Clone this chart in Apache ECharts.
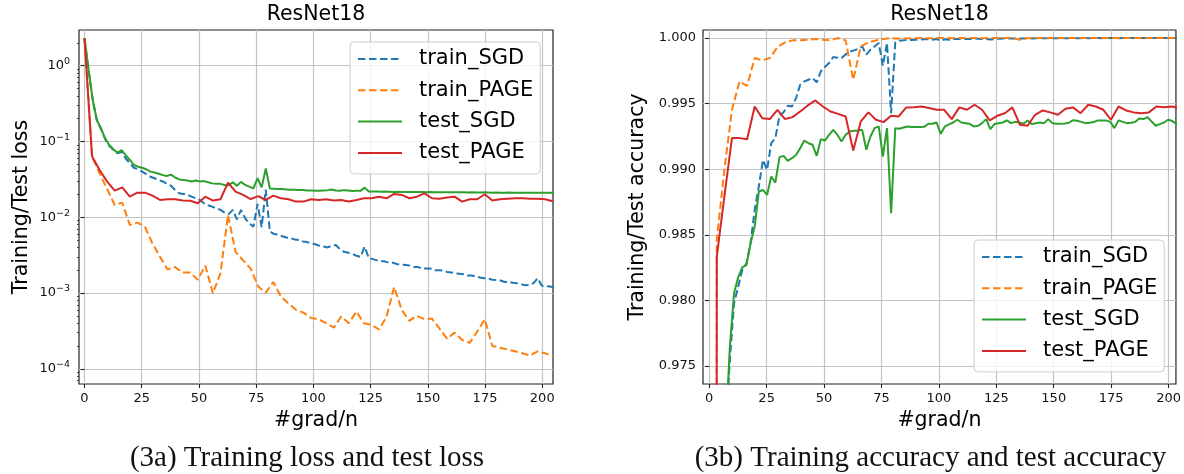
<!DOCTYPE html>
<html>
<head>
<meta charset="utf-8">
<script src="https://cdn.jsdelivr.net/npm/echarts@6/dist/echarts.min.js"></script>
<style>
html,body{margin:0;padding:0;background:#fff;}
#c{width:1184px;height:474px;}
</style>
</head>
<body>
<div id="c"></div>
<script>
// ---- x positions (#grad/n) ----
const xSGD = [0,1.8,3.6,5.4,7.2,9,10.8,12.6,14.4,16.2,18,19.8,21.6,23.4,25.2,27,28.8,30.6,32.4,34.2,36,37.8,39.6,41.4,43.2,45,46.8,48.6,50.4,52.2,54,55.8,57.6,59.4,61.2,63,64.8,66.6,68.4,70.2,72,73.8,75.6,77.4,79.2,81,82.8,84.6,86.4,88.2,90,91.8,93.6,95.4,97.2,99,100.8,102.6,104.4,106.2,108,109.8,111.6,113.4,115.2,117,118.8,120.6,122.4,124.2,126,127.8,129.6,131.4,133.2,135,136.8,138.6,140.4,142.2,144,145.8,147.6,149.4,151.2,153,154.8,156.6,158.4,160.2,162,163.8,165.6,167.4,169.2,171,172.8,174.6,176.4,178.2,180,181.8,183.6,185.4,187.2,189,190.8,192.6,194.4,196.2,198,199.8,201.6,203.4,205.2];
const xPAGE = [0,3.3,6.6,9.9,13.2,16.5,19.8,23.1,26.4,29.7,33,36.3,39.6,42.9,46.2,49.5,52.8,56.1,59.4,62.7,66,69.3,72.6,75.9,79.2,82.5,85.8,89.1,92.4,95.7,99,102.3,105.6,108.9,112.2,115.5,118.8,122.1,125.4,128.7,132,135.3,138.6,141.9,145.2,148.5,151.8,155.1,158.4,161.7,165,168.3,171.6,174.9,178.2,181.5,184.8,188.1,191.4,194.7,198,201.3,204.6];

// ---- (3a) loss ----
const trainLossSGD = [2.3,0.877,0.353,0.19,0.147,0.108,0.088,0.078,0.0697,0.073,0.06,0.0514,0.045,0.043,0.04,0.037,0.0343,0.0327,0.031,0.0297,0.0276,0.026,0.0229,0.0207,0.0203,0.0197,0.0187,0.0178,0.0169,0.0153,0.0144,0.0138,0.0131,0.0125,0.0115,0.011,0.0125,0.0094,0.0125,0.0097,0.0083,0.0075,0.015,0.0074,0.0232,0.0065,0.006,0.0059,0.0056,0.0054,0.0053,0.0051,0.005,0.0048,0.0047,0.0045,0.0044,0.0042,0.0041,0.004,0.0042,0.0043,0.0038,0.0035,0.0034,0.0033,0.0031,0.003,0.0041,0.0029,0.0028,0.0027,0.00265,0.0026,0.0025,0.0025,0.0024,0.00237,0.00235,0.0023,0.0022,0.0022,0.0021,0.0021,0.0021,0.002,0.002,0.00198,0.0019,0.00187,0.00182,0.0018,0.00177,0.0017,0.0017,0.00165,0.0016,0.00157,0.00155,0.0015,0.00149,0.00146,0.0014,0.0014,0.00137,0.00135,0.0013,0.00127,0.00128,0.00135,0.00157,0.00125,0.00123,0.00122,0.00118];
const testLossSGD = [2.3,0.877,0.353,0.192,0.149,0.11,0.09,0.079,0.071,0.077,0.066,0.057,0.049,0.0465,0.045,0.043,0.04,0.039,0.0375,0.036,0.035,0.0365,0.0335,0.0316,0.031,0.0305,0.0297,0.0305,0.0297,0.03,0.029,0.028,0.0276,0.0276,0.0267,0.0265,0.029,0.026,0.0293,0.0267,0.0254,0.024,0.0327,0.0248,0.044,0.024,0.0238,0.0236,0.0236,0.0233,0.023,0.023,0.0229,0.0229,0.0226,0.0226,0.0224,0.0224,0.0226,0.0228,0.0232,0.0226,0.0224,0.0228,0.0225,0.0222,0.0224,0.0223,0.0246,0.0219,0.0218,0.0218,0.0217,0.0218,0.0217,0.0216,0.0217,0.0216,0.0216,0.0215,0.0216,0.0215,0.0215,0.0214,0.0215,0.0214,0.0214,0.0213,0.0214,0.0213,0.0213,0.0214,0.0213,0.0212,0.0213,0.0212,0.0212,0.0213,0.0212,0.0211,0.0212,0.0211,0.0211,0.0212,0.0211,0.0211,0.021,0.0211,0.0211,0.021,0.021,0.0211,0.021,0.021,0.0209];
const trainLossPAGE = [2.3,0.063,0.038,0.0235,0.0145,0.0156,0.0079,0.0085,0.0075,0.0045,0.003,0.00205,0.0022,0.00186,0.00186,0.0015,0.0023,0.00099,0.00182,0.0107,0.0035,0.0027,0.0021,0.00122,0.00101,0.0014,0.0009,0.00073,0.0006,0.00055,0.00047,0.00045,0.0004,0.00035,0.00049,0.0004,0.00057,0.0004,0.00038,0.00033,0.00049,0.0012,0.0006,0.00043,0.0005,0.00045,0.00046,0.00034,0.00025,0.0003,0.00024,0.00022,0.00031,0.00045,0.0002,0.00019,0.00018,0.00017,0.00016,0.00015,0.00017,0.00016,0.000147];
const testLossPAGE = [2.3,0.064,0.042,0.0295,0.0225,0.0248,0.0187,0.0211,0.0211,0.0193,0.0169,0.0173,0.0173,0.0166,0.0165,0.0153,0.0187,0.0166,0.0173,0.0286,0.0218,0.0197,0.0174,0.019,0.0169,0.0193,0.0178,0.0173,0.0161,0.0161,0.0173,0.0169,0.0173,0.0166,0.0169,0.0161,0.0169,0.0178,0.0178,0.0187,0.0178,0.0203,0.0197,0.0178,0.0187,0.0207,0.0178,0.0175,0.0182,0.0187,0.0161,0.0173,0.0173,0.0201,0.0166,0.0173,0.0176,0.0178,0.0178,0.0176,0.0175,0.0173,0.0163];

// ---- (3b) accuracy ----
const trainAccSGD = [0.1,0.95,0.962,0.967,0.97,0.9755,0.97977,0.98104,0.98232,0.98282,0.98435,0.9869,0.98868,0.99071,0.98995,0.99198,0.99237,0.99407,0.99435,0.99483,0.99478,0.99542,0.99644,0.99669,0.99682,0.99695,0.99662,0.99746,0.99779,0.99809,0.99855,0.9985,0.99847,0.99875,0.99896,0.99906,0.99916,0.99936,0.99873,0.99911,0.99936,0.99962,0.99789,0.99962,0.99427,0.99967,0.9998,0.99982,0.99985,0.99985,0.99987,0.99988,0.9999,0.9999,0.99987,0.99992,0.9998,0.9999,0.99987,0.99993,0.99993,0.99992,0.99993,0.99992,0.99993,0.99994,0.99993,0.99992,0.99988,0.99992,0.99995,0.99996,0.99996,0.99997,0.99997,0.99996,0.99997,0.99998,0.99997,0.99998,0.99998,0.99998,0.99999,0.99998,0.99999,0.99999,0.99998,0.99999,1,0.99999,0.99999,1,0.99999,1,1,0.99999,1,1,1,0.99999,1,1,1,1,0.99999,1,1,1,1,1,1,1,1,1,1];
const testAccSGD = [0.1,0.95,0.962,0.967,0.97,0.9765,0.98053,0.98176,0.98252,0.9827,0.98435,0.98562,0.9883,0.98842,0.98804,0.98944,0.98898,0.99092,0.99102,0.99064,0.99084,0.99109,0.9916,0.99219,0.99198,0.99186,0.99102,0.99229,0.99219,0.99262,0.993,0.99262,0.99211,0.99262,0.99288,0.99293,0.99295,0.993,0.99148,0.99249,0.99313,0.99326,0.99097,0.99313,0.98664,0.99313,0.99308,0.99318,0.99326,0.99321,0.99321,0.99321,0.99323,0.99346,0.99346,0.99356,0.9927,0.99326,0.99341,0.99356,0.99377,0.99356,0.99351,0.99346,0.99326,0.99331,0.99351,0.99382,0.99305,0.99344,0.99351,0.99356,0.99372,0.99351,0.99361,0.99356,0.99346,0.99372,0.99344,0.99351,0.99356,0.99351,0.99382,0.99351,0.99346,0.99346,0.99349,0.99354,0.99374,0.99369,0.99361,0.99351,0.99354,0.99359,0.99372,0.99372,0.99372,0.99361,0.99313,0.99372,0.99361,0.99351,0.99354,0.99359,0.99387,0.99382,0.99397,0.99364,0.99331,0.99344,0.99356,0.99377,0.99367,0.99346,0.99338];
const trainAccPAGE = [0.1,0.98461,0.98995,0.99453,0.99669,0.99636,0.99847,0.9983,0.99847,0.99931,0.99967,0.99982,0.99982,0.99987,0.99992,0.99987,0.99982,1,0.99982,0.99682,0.99936,0.99967,0.99982,0.99992,1,0.99995,0.99997,0.99998,1,0.99998,1,1,0.99999,1,1,1,0.99999,1,1,1,1,0.99987,0.99999,1,1,1,1,1,1,1,1,1,1,1,1,1,1,1,1,1,1,1,1];
const testAccPAGE = [0.1,0.98333,0.98791,0.99237,0.99237,0.99229,0.99478,0.99389,0.99382,0.99453,0.99382,0.99397,0.9944,0.99486,0.99524,0.99478,0.9944,0.99422,0.99402,0.99142,0.99364,0.99433,0.99377,0.99359,0.99407,0.99402,0.99471,0.99473,0.99478,0.99466,0.99453,0.99453,0.99382,0.99471,0.99453,0.99491,0.99453,0.99372,0.99407,0.99427,0.99471,0.99338,0.99331,0.99415,0.99448,0.99433,0.99415,0.99461,0.99471,0.99427,0.99491,0.99478,0.99453,0.99377,0.99478,0.99448,0.99433,0.99427,0.99433,0.99478,0.99473,0.99478,0.99466];

// ---- tick labels ----
const xTicks = [0,25,50,75,100,125,150,175,200];
const lossTicks = [1e-4,1e-3,1e-2,1e-1,1];
const lossMinorTicks = [7e-5,8e-5,9e-5,2e-4,3e-4,4e-4,5e-4,6e-4,7e-4,8e-4,9e-4,2e-3,3e-3,4e-3,5e-3,6e-3,7e-3,8e-3,9e-3,2e-2,3e-2,4e-2,5e-2,6e-2,7e-2,8e-2,9e-2,0.2,0.3,0.4,0.5,0.6,0.7,0.8,0.9,2];
const accTicks = [0.975,0.98,0.985,0.99,0.995,1.0];
const seriesNames = ['train_SGD','train_PAGE','test_SGD','test_PAGE'];
const colors = ['#1f77b4','#ff7f0e','#2ca02c','#d62728'];

const FONT = 'DejaVu Sans';
const pair = (xs, ys) => xs.map((x, i) => [x, ys[i]]);

function sup(v) {
  const e = Math.round(Math.log10(v));
  if (Math.abs(Math.log10(v) - e) > 1e-6) return '';
  return '{b|10}{s|' + (e < 0 ? '\u2212' + (-e) : String(e)) + '}';
}

const tickStyle = {show: true, inside: false, length: 4, lineStyle: {color: '#222', width: 1.1}};
const splitStyle = {show: true, lineStyle: {color: '#c3c3c3', width: 1.2}};
const labelBase = {fontFamily: FONT, fontSize: 13, color: '#111'};

function mkSeries(gi, data) {
  return data.map((d, i) => ({
    name: seriesNames[i], type: 'line', xAxisIndex: gi, yAxisIndex: gi === 0 ? 0 : 2,
    data: d, showSymbol: false, symbol: 'none', clip: true, animation: false,
    lineStyle: {color: colors[i], width: 2, type: i < 2 ? [7.5, 3.5] : 'solid'},
    itemStyle: {color: colors[i]}, z: 2 + i
  }));
}

function mkLegend(left, top) {
  return {
    left: left, top: top, orient: 'vertical', data: seriesNames,
    itemWidth: 44, itemHeight: 14, itemGap: 7.3,
    padding: [5, 7, 9, 7],
    backgroundColor: 'rgba(255,255,255,0.8)', borderColor: '#cccccc', borderWidth: 1, borderRadius: 4,
    textStyle: {fontFamily: FONT, fontSize: 21, color: '#000', lineHeight: 24, padding: [0, 0, 0, 12]},
    lineStyle: {width: 2}, itemStyle: {opacity: 0, color: 'transparent', borderWidth: 0},
    selectedMode: false
  };
}

const chart = echarts.init(document.getElementById('c'), null, {renderer: 'canvas'});
chart.setOption({
  animation: false,
  backgroundColor: '#fff',
  grid: [
    {left: 79, top: 30, width: 474, height: 354, show: true, borderColor: '#222', borderWidth: 1.2, backgroundColor: 'transparent'},
    {left: 703, top: 30, width: 473, height: 354, show: true, borderColor: '#222', borderWidth: 1.2, backgroundColor: 'transparent'}
  ],
  xAxis: [
    {gridIndex: 0, type: 'value', min: -2.4, max: 204.7,
     name: '#grad/n', nameLocation: 'middle', nameGap: 26,
     nameTextStyle: {fontFamily: FONT, fontSize: 20.5, color: '#000'},
     axisLine: {show: false}, axisTick: Object.assign({customValues: xTicks}, tickStyle),
     axisLabel: Object.assign({customValues: xTicks, margin: 8}, labelBase), splitLine: splitStyle},
    {gridIndex: 1, type: 'value', min: -2.7, max: 203.2,
     name: '#grad/n', nameLocation: 'middle', nameGap: 26,
     nameTextStyle: {fontFamily: FONT, fontSize: 20.5, color: '#000'},
     axisLine: {show: false}, axisTick: Object.assign({customValues: xTicks}, tickStyle),
     axisLabel: Object.assign({customValues: xTicks, margin: 8}, labelBase), splitLine: splitStyle}
  ],
  yAxis: [
    {gridIndex: 0, type: 'log', logBase: 10, min: 6.3e-5, max: 2.96,
     name: 'Training/Test loss', nameLocation: 'middle', nameGap: 47, nameRotate: 90,
     nameTextStyle: {fontFamily: FONT, fontSize: 20.5, color: '#000'},
     axisLine: {show: false}, axisTick: Object.assign({customValues: lossTicks}, tickStyle),
     axisLabel: Object.assign({customValues: lossTicks, margin: 9, formatter: sup,
       rich: {b: {fontFamily: FONT, fontSize: 13, color: '#111'}, s: {fontFamily: FONT, fontSize: 9.5, color: '#111', padding: [0, 0, 8, 0]}}}, labelBase),
     splitLine: splitStyle},
    {gridIndex: 0, type: 'log', logBase: 10, min: 6.3e-5, max: 2.96, position: 'left',
     axisLine: {show: false}, axisLabel: {show: false}, splitLine: {show: false},
     axisTick: {show: true, inside: false, length: 2, customValues: lossMinorTicks, lineStyle: {color: '#222', width: 0.8}}},
    {gridIndex: 1, type: 'value', min: 0.97363, max: 1.00061,
     name: 'Training/Test accuracy', nameLocation: 'middle', nameGap: 55, nameRotate: 90,
     nameTextStyle: {fontFamily: FONT, fontSize: 20.5, color: '#000'},
     axisLine: {show: false}, axisTick: Object.assign({customValues: accTicks}, tickStyle),
     axisLabel: Object.assign({customValues: accTicks, margin: 7, formatter: v => v.toFixed(3)}, labelBase),
     splitLine: splitStyle}
  ],
  legend: [mkLegend(350, 42), mkLegend(974, 240)],
  series: mkSeries(0, [pair(xSGD, trainLossSGD), pair(xPAGE, trainLossPAGE), pair(xSGD, testLossSGD), pair(xPAGE, testLossPAGE)])
    .concat(mkSeries(1, [pair(xSGD, trainAccSGD), pair(xPAGE, trainAccPAGE), pair(xSGD, testAccSGD), pair(xPAGE, testAccPAGE)])),
  graphic: [
    {type: 'text', x: 316, y: 15, style: {text: 'ResNet18', font: '20.5px "DejaVu Sans"', fill: '#000', align: 'center', verticalAlign: 'middle'}},
    {type: 'text', x: 939.5, y: 15, style: {text: 'ResNet18', font: '20.5px "DejaVu Sans"', fill: '#000', align: 'center', verticalAlign: 'middle'}},
    {type: 'text', x: 307, y: 458, style: {text: '(3a) Training loss and test loss', font: '29px "Liberation Serif"', fill: '#111', align: 'center', verticalAlign: 'middle'}},
    {type: 'text', x: 930.5, y: 458, style: {text: '(3b) Training accuracy and test accuracy', font: '29px "Liberation Serif"', fill: '#111', align: 'center', verticalAlign: 'middle'}}
  ]
});
</script>
</body>
</html>
